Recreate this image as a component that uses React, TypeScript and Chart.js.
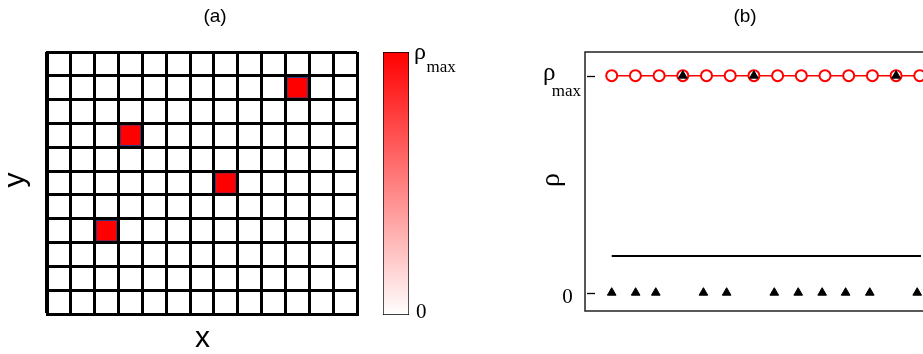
import React, { useEffect, useRef } from 'react';
import { Chart, registerables } from 'chart.js';
Chart.register(...registerables);

// ---------- panel (a): lattice ----------
const cellColumns = ['1', '2', '3', '4', '5', '6', '7', '8', '9', '10', '11', '12', '13'];
const cellRows = ['1', '2', '3', '4', '5', '6', '7', '8', '9', '10', '11']; // bottom -> top
const occupiedColumn = [2, 3, 7, 10];
const occupiedRow = [3, 7, 5, 9];
const occupiedDensity = [1, 1, 1, 1];

// ---------- colour bar ----------
const colorbarRange = [0, 1];

// ---------- panel (b): density profile ----------
const siteX = [0, 1, 2, 3, 4, 5, 6, 7, 8, 9, 10, 11, 12, 13];
const siteRho = [1, 1, 1, 1, 1, 1, 1, 1, 1, 1, 1, 1, 1, 1];
const upperTriangleX = [3, 6, 12];
const upperTriangleRho = [1, 1, 1];
const lowerTriangleX = [0, 1.01, 1.86, 3.87, 4.85, 6.86, 7.87, 8.88, 9.87, 10.89, 12.89];
const lowerTriangleRho = [0, 0, 0, 0, 0, 0, 0, 0, 0, 0, 0];
const meanLineX = [0, 13.05];
const meanLineRho = [0.169, 0.169];
const rhoTickValues = [0, 1];
const rhoTickMain = ['0', 'ρ'];
const rhoTickSub = ['', 'max'];

const SANS = '"Liberation Sans", Arial, Helvetica, sans-serif';
const SERIF = '"Liberation Serif", "Times New Roman", serif';

function densityAt(col: number, row: number): number {
  for (let i = 0; i < occupiedColumn.length; i++) {
    if (occupiedColumn[i] === col && occupiedRow[i] === row) return occupiedDensity[i];
  }
  return 0;
}

function densityColor(d: number): string {
  const g = Math.round(255 * (1 - d));
  return `rgb(255,${g},${g})`;
}

const panelAText = {
  id: 'panelAText',
  afterDraw(chart: any) {
    const ctx = chart.ctx;
    ctx.save();
    ctx.fillStyle = '#000';
    ctx.textAlign = 'center';
    ctx.textBaseline = 'alphabetic';
    ctx.font = `19px ${SANS}`;
    ctx.fillText('(a)', 215, 21.5);
    ctx.font = `30px ${SANS}`;
    ctx.fillText('x', 202.5, 347);
    ctx.translate(24, 180);
    ctx.rotate(-Math.PI / 2);
    ctx.fillText('y', 0, 0);
    ctx.restore();
  },
};

const colorbarText = {
  id: 'colorbarText',
  afterDraw(chart: any) {
    const ctx = chart.ctx;
    const y = chart.scales.y;
    const area = chart.chartArea;
    ctx.save();
    ctx.fillStyle = '#000';
    ctx.textAlign = 'left';
    ctx.textBaseline = 'alphabetic';
    const top = y.getPixelForValue(colorbarRange[1]);
    const bottom = y.getPixelForValue(colorbarRange[0]);
    ctx.font = `24px ${SERIF}`;
    ctx.fillText('ρ', area.right + 5, top + 7);
    ctx.font = `17px ${SERIF}`;
    ctx.fillText('max', area.right + 17.5, top + 19.5);
    ctx.font = `21px ${SERIF}`;
    ctx.fillText('0', area.right + 7, bottom + 3);
    ctx.restore();
  },
};

const panelBDecor = {
  id: 'panelBDecor',
  afterDraw(chart: any) {
    const ctx = chart.ctx;
    const a = chart.chartArea;
    const y = chart.scales.y;
    ctx.save();
    // frame
    ctx.strokeStyle = '#222';
    ctx.lineWidth = 1.5;
    ctx.strokeRect(a.left, a.top, a.right - a.left, a.bottom - a.top);
    // inward ticks + labels
    ctx.fillStyle = '#000';
    ctx.strokeStyle = '#000';
    ctx.lineWidth = 1.3;
    rhoTickValues.forEach((v, i) => {
      const py = Math.round(y.getPixelForValue(v)) + 0.5;
      ctx.beginPath();
      ctx.moveTo(a.left + 2, py);
      ctx.lineTo(a.left + 10, py);
      ctx.stroke();
      ctx.textBaseline = 'alphabetic';
      if (rhoTickSub[i]) {
        ctx.textAlign = 'left';
        ctx.font = `25px ${SERIF}`;
        ctx.fillText(rhoTickMain[i], a.left - 42, py + 3);
        ctx.font = `17px ${SERIF}`;
        ctx.fillText(rhoTickSub[i], a.left - 33.3, py + 19);
      } else {
        ctx.textAlign = 'center';
        ctx.font = `21px ${SERIF}`;
        ctx.fillText(rhoTickMain[i], a.left - 17.5, py + 9);
      }
    });
    // title
    ctx.textAlign = 'center';
    ctx.font = `19px ${SANS}`;
    ctx.fillText('(b)', 225, 21.5);
    // axis label
    ctx.font = `28px ${SERIF}`;
    ctx.translate(39, 180);
    ctx.rotate(-Math.PI / 2);
    ctx.fillText('ρ', 0, 0);
    ctx.restore();
  },
};

export default function App() {
  const aRef = useRef<HTMLCanvasElement>(null);
  const cbRef = useRef<HTMLCanvasElement>(null);
  const bRef = useRef<HTMLCanvasElement>(null);

  useEffect(() => {
    const heatDatasets = cellRows.map((rowLabel, r) => ({
      label: 'row ' + rowLabel,
      data: cellColumns.map(() => 1),
      backgroundColor: (c: any) => densityColor(densityAt(c.dataIndex, r)),
      borderColor: '#2c3a80',
      borderWidth: (c: any) => (densityAt(c.dataIndex, r) > 0 ? 2.5 : 0),
      borderSkipped: false,
      barPercentage: 1,
      categoryPercentage: 1,
    }));

    const chartA = new Chart(aRef.current as HTMLCanvasElement, {
      type: 'bar',
      data: { labels: cellColumns, datasets: heatDatasets as any },
      options: {
        animation: false,
        responsive: false,
        devicePixelRatio: 1,
        layout: { padding: { left: 47, top: 52, right: 113, bottom: 40 } },
        plugins: { legend: { display: false }, tooltip: { enabled: false } },
        scales: {
          x: {
            stacked: true,
            ticks: { display: false },
            grid: { color: '#000', lineWidth: 3, drawTicks: false, offset: true, z: 1 },
            border: { display: true, color: '#000', width: 3, z: 1 },
            afterFit: (s: any) => { s.height = 0; },
          },
          y: {
            stacked: true,
            min: 0,
            max: cellRows.length,
            ticks: { display: false, stepSize: 1 },
            grid: { color: '#000', lineWidth: 3, drawTicks: false, z: 1 },
            border: { display: true, color: '#000', width: 3, z: 1 },
            afterFit: (s: any) => { s.width = 0; },
          },
        },
      } as any,
      plugins: [panelAText],
    });

    const chartCb = new Chart(cbRef.current as HTMLCanvasElement, {
      type: 'bar',
      data: {
        labels: ['ρ'],
        datasets: [
          {
            data: [[colorbarRange[0], colorbarRange[1]]],
            backgroundColor: (c: any) => {
              const a = c.chart.chartArea;
              if (!a) return '#ff0000';
              const g = c.chart.ctx.createLinearGradient(0, a.bottom, 0, a.top);
              g.addColorStop(0, densityColor(0));
              g.addColorStop(1, densityColor(1));
              return g;
            },
            borderColor: '#000',
            borderWidth: 1,
            borderSkipped: false,
            barPercentage: 1,
            categoryPercentage: 1,
          } as any,
        ],
      },
      options: {
        animation: false,
        responsive: false,
        devicePixelRatio: 1,
        layout: { padding: { left: 13, top: 12, right: 61, bottom: 15 } },
        plugins: { legend: { display: false }, tooltip: { enabled: false } },
        scales: {
          x: { display: false },
          y: { display: false, min: colorbarRange[0], max: colorbarRange[1] },
        },
      } as any,
      plugins: [colorbarText],
    });

    const pts = (xs: number[], ys: number[]) => xs.map((x, i) => ({ x, y: ys[i] }));

    const chartB = new Chart(bRef.current as HTMLCanvasElement, {
      type: 'scatter',
      data: {
        datasets: [
          {
            label: 'upper',
            data: pts(upperTriangleX, upperTriangleRho),
            pointStyle: 'triangle',
            pointRadius: 5,
            backgroundColor: '#000',
            borderColor: '#000',
            borderWidth: 1,
            showLine: false,
            order: 0,
          },
          {
            label: 'lower',
            data: pts(lowerTriangleX, lowerTriangleRho),
            pointStyle: 'triangle',
            pointRadius: 5,
            backgroundColor: '#000',
            borderColor: '#000',
            borderWidth: 1,
            showLine: false,
            order: 1,
          },
          {
            label: 'sites',
            data: pts(siteX, siteRho),
            pointStyle: 'circle',
            pointRadius: 5.5,
            pointBorderWidth: 2,
            pointBackgroundColor: '#fff',
            pointBorderColor: '#ff0000',
            borderColor: '#ff0000',
            borderWidth: 1.5,
            showLine: true,
            order: 2,
          },
          {
            label: 'mean',
            data: pts(meanLineX, meanLineRho),
            pointRadius: 0,
            borderColor: '#000',
            borderWidth: 1.8,
            showLine: true,
            order: 3,
          },
        ] as any,
      },
      options: {
        animation: false,
        responsive: false,
        devicePixelRatio: 1,
        layout: { padding: { left: 65, top: 52, right: 53.5, bottom: 43 } },
        plugins: { legend: { display: false }, tooltip: { enabled: false } },
        scales: {
          x: { type: 'linear', display: false, min: -1.127, max: 14.127 },
          y: { type: 'linear', display: false, min: -0.0843, max: 1.109 },
        },
      } as any,
      plugins: [panelBDecor],
    });

    return () => {
      chartA.destroy();
      chartCb.destroy();
      chartB.destroy();
    };
  }, []);

  return (
    <div
      style={{
        position: 'fixed',
        left: 0,
        top: 0,
        width: 923,
        height: 354,
        overflow: 'hidden',
        background: '#fff',
      }}
    >
      <canvas ref={aRef} width={470} height={354} style={{ position: 'absolute', left: 0, top: 0 }} />
      <canvas ref={cbRef} width={100} height={290} style={{ position: 'absolute', left: 370, top: 40 }} />
      <canvas ref={bRef} width={480} height={354} style={{ position: 'absolute', left: 520, top: 0 }} />
    </div>
  );
}
